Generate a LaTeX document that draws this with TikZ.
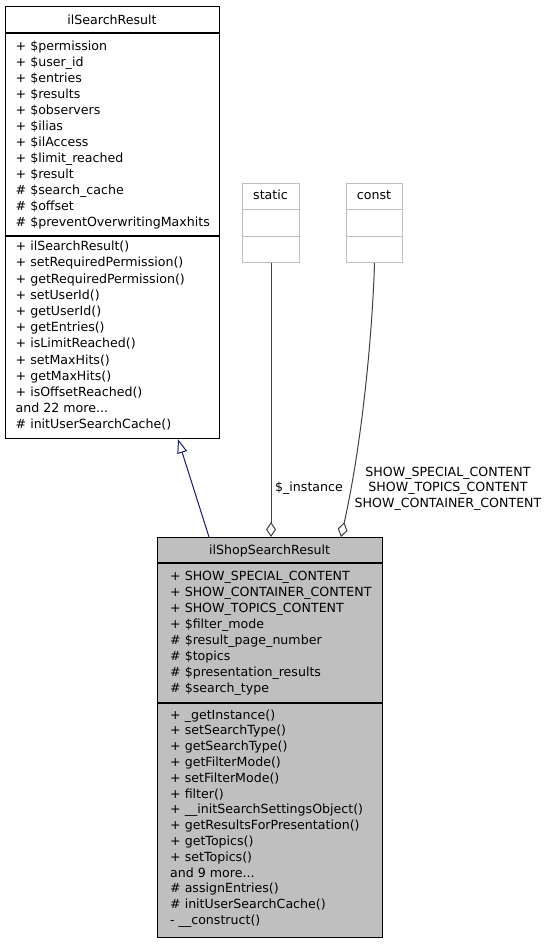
\documentclass[tikz,border=0pt]{standalone}
\usepackage{fontspec}
\setmainfont{DejaVu Sans}
\usetikzlibrary{arrows.meta,calc}
\definecolor{shopgray}{HTML}{BFBFBF}
\definecolor{litegray}{HTML}{BFBFBF}
\definecolor{inhblue}{HTML}{191970}
\definecolor{edgegray}{HTML}{404040}
\newcommand{\tdots}{...}
\begin{document}
\begin{tikzpicture}[x=1pt,y=-1pt,
  txt/.style={anchor=base west, inner sep=0pt, font=\fontsize{12.6}{16}\selectfont},
  ttl/.style={anchor=base, inner sep=0pt, font=\fontsize{12.6}{16}\selectfont},
  umlbox/.style={draw=black, line width=1.2pt, anchor=north west, inner sep=0pt},
  graybox/.style={draw=litegray, line width=1pt, anchor=north west, inner sep=0pt},
  sepline/.style={draw=black, line width=1.2pt},
  gsepline/.style={draw=litegray, line width=1pt},
  inh/.style={draw=inhblue, line width=1pt, -{Triangle[open, length=14pt, width=10pt, fill=white]}},
  agg/.style={draw=edgegray, line width=1pt, -{Diamond[open, length=15pt, width=10pt, fill=white]}}
]
\useasboundingbox (0,0) rectangle (548,944);

% ---- ilSearchResult ----
\node[umlbox, minimum width=214pt, minimum height=432pt] (base) at (5,6) {};
\draw[sepline] ($(base.north west)+(0,27)$) -- ($(base.north east)+(0,27)$);
\draw[sepline] ($(base.north west)+(0,230)$) -- ($(base.north east)+(0,230)$);
\node[ttl] (baset) at (112,24.5) {ilSearchResult};
\foreach \t [count=\i from 0] in {+ \$permission, + \$user\_id, + \$entries, + \$results, + \$observers, + \$ilias, + \$ilAccess, + \$limit\_reached, + \$result, \# \$search\_cache, \# \$offset, \# \$preventOverwritingMaxhits}
  \node[txt] (ba\i) at (15.5, 50.7+15.95*\i) {\t};
\foreach \t [count=\i from 0] in {+ ilSearchResult(), + setRequiredPermission(), + getRequiredPermission(), + setUserId(), + getUserId(), + getEntries(), + isLimitReached(), + setMaxHits(), + getMaxHits(), + isOffsetReached(), and 22 more\tdots, \# initUserSearchCache()}
  \node[txt] (bm\i) at (15.5, 250.7+16.2*\i) {\t};

% ---- static / const ----
\node[graybox, minimum width=57pt, minimum height=79pt] (static) at (242,183) {};
\draw[gsepline] ($(static.north west)+(0,26)$) -- ($(static.north east)+(0,26)$);
\draw[gsepline] ($(static.north west)+(0,53)$) -- ($(static.north east)+(0,53)$);
\node[ttl] (statict) at (270.5,199.5) {static};

\node[graybox, minimum width=56pt, minimum height=79pt] (const) at (346,183) {};
\draw[gsepline] ($(const.north west)+(0,26)$) -- ($(const.north east)+(0,26)$);
\draw[gsepline] ($(const.north west)+(0,53)$) -- ($(const.north east)+(0,53)$);
\node[ttl] (constt) at (374,199.5) {const};

% ---- ilShopSearchResult ----
\node[umlbox, fill=shopgray, minimum width=225pt, minimum height=400pt] (shop) at (157,537) {};
\draw[sepline] ($(shop.north west)+(0,26)$) -- ($(shop.north east)+(0,26)$);
\draw[sepline] ($(shop.north west)+(0,166)$) -- ($(shop.north east)+(0,166)$);
\node[ttl] (shopt) at (269.5,554.5) {ilShopSearchResult};
\foreach \t [count=\i from 0] in {+ SHOW\_SPECIAL\_CONTENT, + SHOW\_CONTAINER\_CONTENT, + SHOW\_TOPICS\_CONTENT, + \$filter\_mode, \# \$result\_page\_number, \# \$topics, \# \$presentation\_results, \# \$search\_type}
  \node[txt] (sa\i) at (170, 580.7+15.9*\i) {\t};
\foreach \t [count=\i from 0] in {+ \_getInstance(), + setSearchType(), + getSearchType(), + getFilterMode(), + setFilterMode(), + filter(), + \_\_initSearchSettingsObject(), + getResultsForPresentation(), + getTopics(), + setTopics(), and 9 more\tdots, \# assignEntries(), \# initUserSearchCache(), - \_\_construct()}
  \node[txt] (sm\i) at (170, 719+15.8*\i) {\t};

% ---- connectors ----
\draw[inh] ($(shop.north west)+(52,0)$) -- ($(base.south west)+(173,0)$);
\draw[agg] (static.south) -- (static.south |- shop.north);
\node[ttl] (lblinst) at (309,491.5) {\$\_instance};
\draw[agg] (const.south) .. controls ($(const.south)+(-2,68)$) and ($(const.south)+(-12,178)$) .. ($(shop.north west)+(184,0)$);
\node[ttl] (lblc1) at (448,476) {SHOW\_SPECIAL\_CONTENT};
\node[ttl] (lblc2) at (448,491.5) {SHOW\_TOPICS\_CONTENT};
\node[ttl] (lblc3) at (448,507) {SHOW\_CONTAINER\_CONTENT};
\end{tikzpicture}
\end{document}
